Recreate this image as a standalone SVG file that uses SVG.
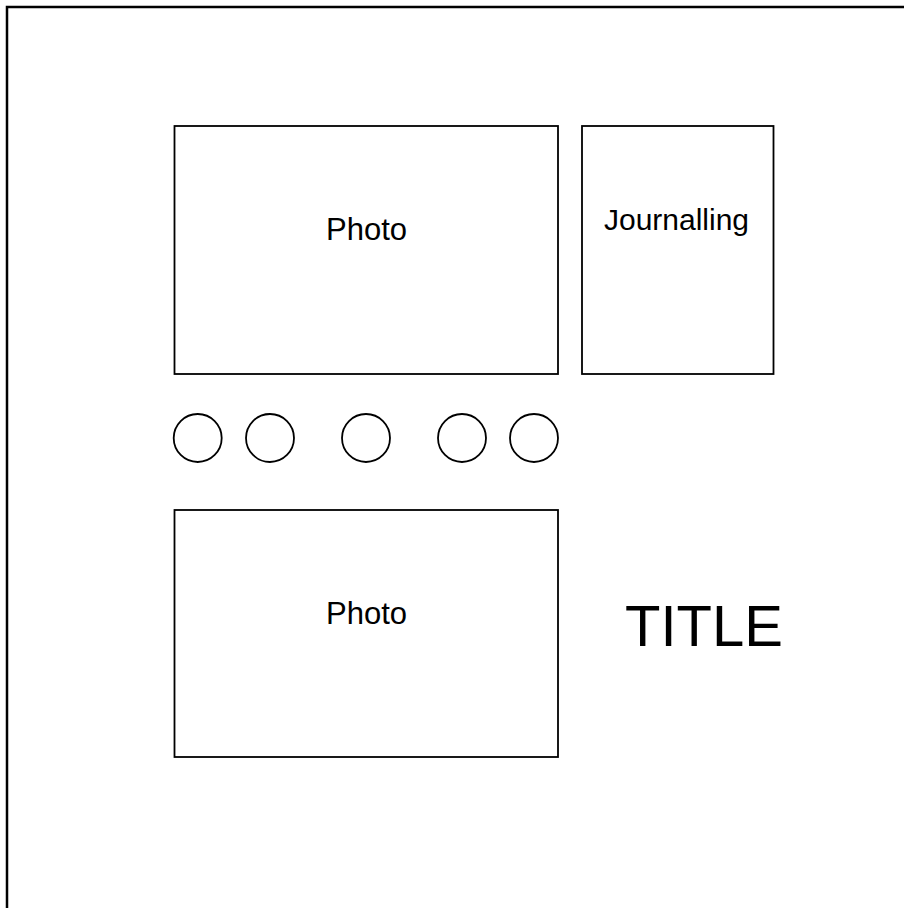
<svg xmlns="http://www.w3.org/2000/svg" width="904" height="908" viewBox="0 0 904 908">
<style>
.box{fill:#fff;stroke:#000;stroke-width:1.8}
.dot{fill:#fff;stroke:#000;stroke-width:1.8}
.lbl{font-family:"Liberation Sans",Arial,sans-serif;fill:#000;text-anchor:middle}
</style>
<rect width="904" height="908" fill="#fff"/>
<g id="page"><rect x="7" y="7" width="1000" height="1000" fill="none" stroke="#000" stroke-width="2.5"/></g>
<g id="photo1"><rect class="box" x="174.5" y="126" width="383.5" height="248"/><text class="lbl" x="366.5" y="240" font-size="31">Photo</text></g>
<g id="journalling"><rect class="box" x="582" y="126" width="191.5" height="248"/><text class="lbl" x="676.5" y="230" font-size="30">Journalling</text></g>
<g id="dots">
<circle id="c1" class="dot" cx="197.7" cy="438" r="24"/>
<circle id="c2" class="dot" cx="270" cy="438" r="24"/>
<circle id="c3" class="dot" cx="366" cy="438" r="24"/>
<circle id="c4" class="dot" cx="462" cy="438" r="24"/>
<circle id="c5" class="dot" cx="534" cy="438" r="24"/>
</g>
<g id="photo2"><rect class="box" x="174.5" y="510" width="383.5" height="247"/><text class="lbl" x="366.5" y="624" font-size="31">Photo</text></g>
<g id="title"><text class="lbl" x="704" y="646" font-size="58">TITLE</text></g>
<g id="connectors"/>
</svg>
